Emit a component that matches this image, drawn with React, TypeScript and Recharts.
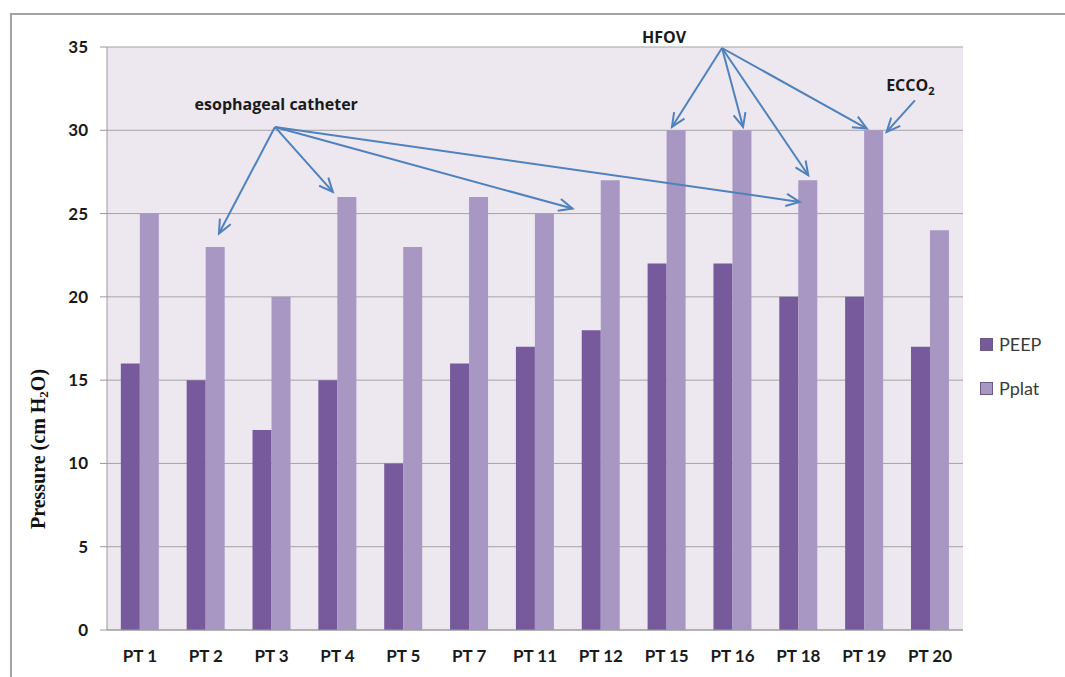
import {
  BarChart,
  Bar,
  XAxis,
  YAxis,
  CartesianGrid,
  ReferenceLine,
  ReferenceDot,
  Legend,
} from "recharts";

// ─── Data ────────────────────────────────────────────────────────────────────

const patients = ["PT 1", "PT 2", "PT 3", "PT 4", "PT 5", "PT 7", "PT 11", "PT 12", "PT 15", "PT 16", "PT 18", "PT 19", "PT 20"];
const peep = [16, 15, 12, 15, 10, 16, 17, 18, 22, 22, 20, 20, 17];
const pplat = [25, 23, 20, 26, 23, 26, 25, 27, 30, 30, 27, 30, 24];
const yTicks = [0, 5, 10, 15, 20, 25, 30, 35];

// u = centre of each category on a 0..13 scale, used by the annotation axis
const rows = patients.map((name, i) => ({ name, PEEP: peep[i], Pplat: pplat[i], u: i + 0.5 }));

// annotation arrows: u = position in category units (0..13), v = cm H2O
type Pt = { u: number; v: number };
const catheterFrom: Pt = { u: 2.55, v: 30.2 };
const catheterTo: Pt[] = [
  { u: 1.7, v: 23.8 },
  { u: 3.43, v: 26.3 },
  { u: 7.07, v: 25.3 },
  { u: 10.52, v: 25.7 },
];
const hfovFrom: Pt = { u: 9.34, v: 34.94 };
const hfovTo: Pt[] = [
  { u: 8.58, v: 30.2 },
  { u: 9.66, v: 30.2 },
  { u: 10.65, v: 27.3 },
  { u: 11.54, v: 30.1 },
];
const eccoFrom: Pt = { u: 12.27, v: 31.8 };
const eccoTo: Pt[] = [{ u: 11.84, v: 29.9 }];

const notes = [
  { text: "esophageal catheter", at: { u: 2.57, v: 31.6 }, sub: "" },
  { text: "HFOV", at: { u: 8.46, v: 35.6 }, sub: "" },
  { text: "ECCO", at: { u: 12.2, v: 32.7 }, sub: "2" },
];

// ─── Bits ────────────────────────────────────────────────────────────────────

const ARROW = "#4f81bd";
const FONT = "Lato, 'Open Sans', sans-serif";

function Arrow(props: any) {
  const { x1, y1, x2, y2 } = props;
  const a = Math.atan2(y2 - y1, x2 - x1);
  const len = 15;
  const s = 0.42;
  const p1 = `${x2 - len * Math.cos(a - s)},${y2 - len * Math.sin(a - s)}`;
  const p2 = `${x2 - len * Math.cos(a + s)},${y2 - len * Math.sin(a + s)}`;
  return (
    <g>
      <line x1={x1} y1={y1} x2={x2} y2={y2} stroke={ARROW} strokeWidth={2} />
      <polyline points={`${p1} ${x2},${y2} ${p2}`} fill="none" stroke={ARROW} strokeWidth={2} />
    </g>
  );
}

function Note({ cx, cy, text, sub }: any) {
  return (
    <text
      x={cx}
      y={cy}
      textAnchor="middle"
      dominantBaseline="central"
      fontFamily="'Open Sans', sans-serif"
      fontWeight={700}
      fontSize={16}
      fill="#1a1a1a"
    >
      {text}
      {sub ? (
        <tspan fontSize={11} dy={5}>
          {sub}
        </tspan>
      ) : null}
    </text>
  );
}

function YLabel({ viewBox }: any) {
  const cx = viewBox.x + 38;
  const cy = viewBox.y + 402;
  return (
    <text
      x={cx}
      y={cy}
      transform={`rotate(-90 ${cx} ${cy})`}
      textAnchor="middle"
      dominantBaseline="central"
      fontFamily="'Liberation Serif', 'Times New Roman', serif"
      fontWeight={700}
      fontSize={20}
      fill="#111"
    >
      Pressure (cm H<tspan fontSize={13} dy={5}>2</tspan>
      <tspan dy={-5}>O)</tspan>
    </text>
  );
}

function LegendBox({ payload }: any) {
  return (
    <div style={{ fontFamily: FONT, fontSize: 18, color: "#3a3a3a" }}>
      {(payload ?? []).map((p: any) => (
        <div key={p.value} style={{ display: "flex", alignItems: "center", height: 44 }}>
          <span style={{ width: 11, height: 11, background: p.color, border: "1px solid #6b5a86", marginRight: 6 }} />
          {p.value}
        </div>
      ))}
    </div>
  );
}

const axisTick = { fontFamily: FONT, fontWeight: 700, fontSize: 17, fill: "#1a1a1a" };

// ─── Chart ───────────────────────────────────────────────────────────────────

export default function App() {
  return (
    <div style={{ position: "fixed", left: 0, top: 0, width: 1065, height: 677, overflow: "hidden", background: "#fff" }}>
      <div
        style={{
          position: "absolute",
          left: 10,
          top: 13,
          width: 1200,
          height: 800,
          border: "2px solid #a3a3a3",
        }}
      />
      <div style={{ position: "absolute", left: 0, top: 0 }}>
        <BarChart
          width={1065}
          height={677}
          data={rows}
          margin={{ top: 47, right: 102, left: 0, bottom: 0 }}
          barCategoryGap="21%"
          barGap={0}
        >
          <CartesianGrid vertical={false} stroke="#a4a4a4" fill="#ede8f0" fillOpacity={1} />
          <XAxis
            dataKey="name"
            height={47}
            axisLine={{ stroke: "#9a9a9a" }}
            tickLine={false}
            tickSize={8}
            tickMargin={12}
            tick={axisTick}
            interval={0}
          />
          <XAxis
            xAxisId="u"
            dataKey="u"
            type="number"
            scale="linear"
            domain={[0, 13]}
            ticks={[0, 13]}
            allowDataOverflow
            hide
          />
          <YAxis
            width={107}
            domain={[0, 35]}
            ticks={yTicks}
            interval={0}
            axisLine={{ stroke: "#9a9a9a" }}
            tickLine={{ stroke: "#9a9a9a" }}
            tickSize={7}
            tickMargin={12}
            tick={axisTick}
            label={<YLabel />}
          />
          <Legend
            layout="horizontal"
            align="center"
            verticalAlign="middle"
            wrapperStyle={{ left: 980, top: 322, width: 85 }}
            content={<LegendBox />}
          />
          <Bar dataKey="PEEP" fill="#765a9c" isAnimationActive={false} />
          <Bar dataKey="Pplat" fill="#a897c2" isAnimationActive={false} />

          {catheterTo.map((t, i) => (
            <ReferenceLine
              key={`c${i}`}
              xAxisId="u"
              ifOverflow="visible"
              segment={[{ x: catheterFrom.u, y: catheterFrom.v }, { x: t.u, y: t.v }]}
              shape={<Arrow />}
            />
          ))}
          {hfovTo.map((t, i) => (
            <ReferenceLine
              key={`h${i}`}
              xAxisId="u"
              ifOverflow="visible"
              segment={[{ x: hfovFrom.u, y: hfovFrom.v }, { x: t.u, y: t.v }]}
              shape={<Arrow />}
            />
          ))}
          {eccoTo.map((t, i) => (
            <ReferenceLine
              key={`e${i}`}
              xAxisId="u"
              ifOverflow="visible"
              segment={[{ x: eccoFrom.u, y: eccoFrom.v }, { x: t.u, y: t.v }]}
              shape={<Arrow />}
            />
          ))}
          {notes.map((n) => (
            <ReferenceDot
              key={n.text}
              xAxisId="u"
              x={n.at.u}
              y={n.at.v}
              r={0}
              ifOverflow="visible"
              shape={<Note text={n.text} sub={n.sub} />}
            />
          ))}
        </BarChart>
      </div>
    </div>
  );
}
